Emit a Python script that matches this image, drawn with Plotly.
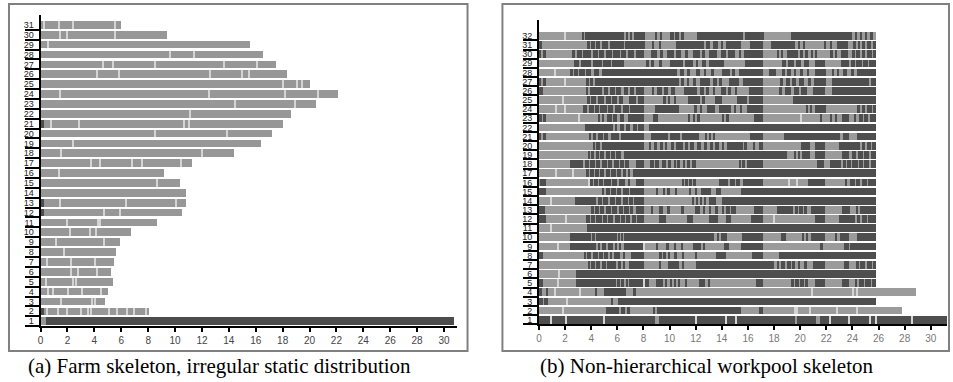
import plotly.graph_objects as go

W, H = 953, 382

# ---------------- (a) Farm skeleton: rows 1..31 ----------------
left_rows = list(range(1, 32))
left_ends = [30.7, 8.0, 4.74, 4.99, 5.36, 5.19, 5.41, 5.56, 5.9, 6.67, 8.62, 10.5, 10.75,
             10.8, 10.35, 9.12, 11.22, 14.33, 16.38, 17.17, 18.0, 18.6, 20.43, 22.11, 20.04,
             18.28, 17.47, 16.5, 15.54, 9.36, 5.96]
left_seps = [
    [],
    [0.42, 1.28, 1.97, 3.01, 3.51, 3.7, 5.06, 5.68, 6.42, 6.89, 7.78],
    [1.48, 3.83, 4.0],
    [0.54, 0.91, 2.02, 3.08, 4.45],
    [0.37, 2.35, 2.64],
    [2.27, 2.77, 4.17],
    [0.49, 2.27, 4.0],
    [1.73],
    [1.16, 4.67],
    [2.15, 3.68, 4.08],
    [1.97, 4.25, 4.42],
    [4.67, 5.9],
    [1.41, 6.35, 10.05],
    [],
    [8.65],
    [1.36],
    [3.75, 4.37, 6.79, 7.53, 10.42],
    [1.53, 11.96],
    [2.35],
    [8.45, 13.83],
    [0.74, 2.82, 10.67, 11.0],
    [11.12],
    [14.45, 18.87],
    [1.41, 12.48, 18.13, 20.6],
    [18.0, 19.07, 19.44],
    [4.2, 5.83, 12.6, 14.95, 15.5],
    [4.62, 5.36, 8.52, 13.6, 16.06],
    [9.6, 11.4],
    [0.5],
    [1.41, 1.97, 5.53],
    [0.22, 1.33, 2.35, 5.53],
]
left_dark_rows = [1, 2, 12, 13, 21]
left_dark_from = [0.35, 0.0, 0.0, 0.0, 0.0]
left_dark_to = [30.7, 0.2, 0.2, 0.2, 0.2]

# ---------------- (b) Non-hierarchical workpool: rows 1..32 ----------------
right_rows = list(range(1, 33))
# colour of the first segment of each row (L = light, D = dark); colours then alternate
right_first = ["D", "L", "D", "D", "D", "L", "L", "D", "L", "L", "L", "D", "D", "L", "D", "L",
               "L", "L", "L", "L", "D", "L", "D", "L", "L", "D", "D", "L", "L", "D", "D", "L"]
right_bounds = [
    [0, 8.85, 9.2, 19.6, 19.75, 21.2, 21.5, 31.5],
    [0, 5.14, 6.16, 6.3, 6.6, 6.75, 7.0, 8.7, 8.9, 9.0, 15.45, 16.84, 17.18, 27.8],
    [0, 0.3, 0.4, 0.69, 5.52, 5.6, 6.03, 25.8],
    [0, 0.2, 0.6, 0.7, 4.25, 4.45, 5.01, 6.67, 7.18, 7.43, 28.9],
    [0, 0.3, 2.8, 5.9, 6.0, 6.2, 6.3, 6.5, 6.7, 6.8, 6.92, 8.45, 8.96, 9.47, 9.7, 9.8, 10.1,
     10.2, 10.4, 10.5, 10.7, 10.8, 11.2, 11.3, 12.26, 12.72, 13.0, 13.1, 16.59, 17.18, 19.31,
     19.5, 19.6, 19.9, 20.0, 20.3, 20.4, 20.6, 21.17, 21.93, 23.21, 23.72, 24.2, 24.3, 24.5,
     24.9, 25.0, 25.4, 25.5, 25.8],
    [0, 2.8, 25.8],
    [0, 3.74, 3.9, 4.0, 4.3, 4.4, 4.7, 4.8, 5.1, 5.2, 5.9, 6.05, 6.3, 6.4, 6.6, 6.92, 8.07,
     9.21, 9.35, 9.85, 10.74, 11.0, 11.1, 12.01, 17.99, 18.2, 18.4, 18.5, 18.8, 19.0, 19.3,
     19.4, 19.6, 19.8, 20.0, 20.3, 20.5, 20.99, 21.93, 23.38, 23.72, 24.35, 24.5, 24.6, 25.0,
     25.1, 25.5, 25.6, 25.8],
    [0, 0.3, 3.41, 3.6, 3.7, 4.0, 4.1, 4.5, 4.6, 4.9, 5.0, 5.3, 5.4, 5.6, 5.78, 6.21, 6.4, 6.6,
     7.05, 8.07, 9.21, 9.4, 9.5, 9.7, 9.9, 10.0, 10.3, 10.6, 11.0, 11.1, 12.0, 12.1, 13.54,
     14.3, 16.34, 17.18, 18.37, 25.8],
    [0, 2.39, 4.38, 4.5, 4.7, 4.85, 5.1, 5.25, 5.65, 5.8, 6.0, 6.1, 6.3, 6.54, 7.94, 8.96, 9.1,
     9.8, 9.95, 10.4, 10.5, 10.9, 11.0, 11.76, 12.39, 12.6, 12.7, 14.17, 14.55, 15.5, 17.18,
     21.55, 21.75, 23.33, 23.72, 23.84, 25.8],
    [0, 2.34, 4.0, 4.1, 4.25, 4.4, 5.95, 6.05, 6.2, 6.3, 6.4, 6.5, 13.41, 13.6, 13.8, 13.95,
     14.43, 15.57, 17.18, 18.55, 18.88, 20.15, 20.3, 20.45, 20.6, 20.84, 21.93, 22.7, 22.8,
     23.08, 23.72, 24.35, 25.8],
    [0, 3.66, 25.8],
    [0, 0.56, 3.61, 3.9, 4.0, 4.3, 4.4, 4.8, 4.9, 5.2, 5.3, 5.7, 5.8, 6.2, 6.3, 6.6, 6.7, 7.0,
     7.1, 7.4, 7.5, 8.07, 9.16, 9.72, 11.37, 11.76, 13.03, 13.74, 14.3, 14.68, 16.21, 17.18,
     21.1, 21.93, 22.95, 24.22, 24.35, 24.6, 24.7, 25.1, 25.2, 25.8],
    [0, 0.43, 4.0, 4.2, 4.3, 4.6, 4.7, 5.0, 5.1, 5.5, 5.6, 6.0, 6.1, 6.41, 6.5, 6.92, 7.0, 7.2,
     7.43, 8.07, 8.58, 8.7, 9.21, 9.47, 9.85, 10.0, 10.87, 11.12, 11.96, 12.32, 12.6, 12.7,
     13.0, 13.2, 13.5, 13.7, 14.0, 14.2, 14.3, 14.6, 14.7, 15.06, 16.46, 17.18, 18.25, 19.47,
     19.6, 19.8, 19.9, 20.2, 20.35, 20.5, 20.84, 21.93, 23.21, 23.79, 24.35, 24.45, 24.61, 25.8],
    [0, 2.72, 4.38, 4.5, 4.8, 4.9, 5.3, 5.4, 5.8, 5.9, 6.3, 6.4, 6.8, 6.9, 7.2, 7.3, 8.07,
     11.76, 11.9, 12.0, 12.2, 12.3, 12.5, 12.6, 12.8, 13.0, 13.54, 14.05, 25.8],
    [0, 0.56, 4.83, 5.0, 5.1, 5.4, 5.5, 5.9, 6.0, 6.3, 6.4, 6.92, 7.0, 8.07, 8.96, 9.1, 9.5,
     9.6, 9.8, 10.0, 10.4, 10.6, 11.5, 11.6, 12.0, 12.1, 12.39, 13.16, 13.54, 13.92, 15.5, 25.8],
    [0, 0.1, 0.56, 3.87, 4.1, 4.2, 4.5, 4.6, 4.9, 5.0, 5.5, 5.6, 6.0, 6.1, 6.6, 6.8, 7.0, 7.43,
     8.07, 10.99, 11.1, 11.2, 11.4, 11.5, 11.7, 11.8, 12.0, 13.79, 14.5, 14.6, 15.0, 15.1,
     15.4, 15.6, 17.18, 20.59, 21.93, 23.5, 23.6, 23.8, 24.2, 24.3, 24.6, 24.7, 25.1, 25.2, 25.8],
    [0, 3.61, 3.8, 3.9, 4.2, 4.3, 4.6, 4.7, 5.0, 5.1, 5.4, 5.55, 5.9, 6.0, 6.3, 6.4, 6.7, 6.85,
     7.0, 7.18, 25.8],
    [0, 2.39, 3.36, 3.5, 3.8, 3.9, 4.3, 4.4, 4.7, 4.85, 5.2, 5.3, 5.6, 5.75, 6.1, 6.2, 6.5, 6.6,
     6.9, 7.43, 8.07, 8.5, 8.8, 8.9, 9.2, 9.4, 9.7, 9.85, 10.1, 10.3, 10.5, 10.6, 10.8, 11.0,
     11.2, 11.35, 11.6, 11.75, 12.0, 15.32, 15.45, 15.6, 15.75, 15.9, 17.18, 21.3, 21.86, 22.3,
     23.1, 23.3, 23.5, 23.6, 23.9, 24.0, 24.4, 24.5, 24.8, 24.9, 25.3, 25.4, 25.8],
    [0, 3.74, 3.9, 4.0, 4.2, 4.35, 4.6, 4.7, 5.0, 5.1, 5.4, 5.5, 5.8, 5.9, 6.1, 6.2, 6.3, 6.54,
     18.96, 19.57, 19.7, 19.85, 19.95, 20.15, 20.74, 21.1, 21.93, 23.21, 23.72, 24.0, 24.3,
     24.4, 24.8, 24.9, 25.3, 25.4, 25.8],
    [0, 4.12, 4.3, 4.4, 4.7, 4.8, 8.07, 8.45, 8.6, 8.8, 9.0, 9.3, 9.5, 9.7, 9.8, 10.1, 10.3,
     10.5, 10.99, 11.2, 11.4, 11.6, 11.9, 12.1, 12.4, 12.6, 12.9, 13.1, 13.3, 13.5, 13.8, 14.0,
     14.2, 14.43, 15.65, 15.75, 15.9, 16.4, 16.5, 16.84, 17.18, 20.03, 20.74, 21.1, 21.9,
     22.95, 24.55, 24.7, 25.0, 25.1, 25.4, 25.5, 25.8],
    [0, 0.15, 0.3, 0.55, 3.87, 4.0, 4.1, 4.4, 4.5, 4.9, 5.0, 5.3, 5.5, 6.1, 6.25, 8.07, 8.58,
     9.85, 10.03, 10.79, 10.95, 12.26, 12.75, 12.9, 13.0, 13.2, 13.3, 13.5, 16.16, 17.18,
     18.75, 23.02, 23.3, 23.72, 24.35, 25.8],
    [0, 3.5, 5.65, 5.8, 6.0, 6.2, 6.5, 6.7, 7.0, 7.2, 7.5, 7.6, 8.07, 8.4, 25.8],
    [0, 0.2, 0.35, 0.5, 4.5, 4.7, 4.8, 5.0, 5.2, 5.6, 5.7, 6.0, 6.2, 6.5, 6.8, 8.07, 8.7, 9.1,
     11.4, 11.6, 11.8, 11.9, 12.1, 12.3, 14.0, 14.2, 14.3, 14.55, 16.46, 17.18, 21.55, 21.7,
     22.3, 22.4, 22.7, 22.85, 23.2, 23.72, 24.1, 24.3, 24.5, 24.8, 24.9, 25.2, 25.35, 25.8],
    [0, 3.4, 3.7, 3.8, 4.2, 4.3, 4.6, 4.7, 5.2, 5.3, 5.7, 5.8, 6.3, 6.4, 6.9, 7.0, 8.07, 8.9,
     10.75, 11.9, 12.1, 12.3, 12.5, 12.9, 13.5, 13.8, 14.7, 14.9, 15.1, 15.4, 15.5, 15.9,
     17.18, 20.48, 20.6, 20.8, 20.9, 21.1, 22.0, 24.35, 24.6, 24.7, 25.0, 25.1, 25.5, 25.6, 25.8],
    [0, 3.7, 3.9, 4.0, 4.4, 4.5, 5.0, 5.1, 5.5, 5.6, 6.0, 6.1, 6.4, 6.9, 7.4, 7.6, 8.07, 9.5,
     9.7, 9.9, 10.0, 10.3, 10.5, 11.4, 12.3, 12.5, 12.7, 13.5, 14.0, 15.2, 15.9, 16.1, 17.18,
     19.47, 25.8],
    [0, 0.3, 3.6, 3.7, 3.9, 4.85, 5.0, 5.3, 5.4, 5.8, 5.9, 6.3, 6.5, 6.8, 7.0, 7.3, 7.43, 8.07,
     8.7, 8.8, 9.0, 9.4, 9.6, 9.9, 10.1, 10.4, 11.1, 12.1, 12.3, 12.6, 12.8, 13.0, 13.3, 13.5,
     13.9, 14.3, 14.5, 14.7, 15.0, 15.2, 16.1, 17.18, 18.4, 18.6, 18.8, 19.3, 19.5, 19.9, 20.1,
     20.5, 20.99, 21.93, 22.44, 25.8],
    [0, 0.15, 0.3, 0.55, 3.6, 3.8, 3.9, 4.1, 4.3, 10.7, 10.9, 11.1, 11.3, 11.5, 11.8, 12.0,
     12.3, 13.1, 13.3, 13.6, 13.8, 14.0, 14.55, 15.3, 15.6, 17.18, 18.45, 18.7, 18.9, 19.2,
     19.4, 19.7, 19.9, 20.3, 20.6, 20.8, 21.05, 22.0, 22.44, 25.24, 25.4, 25.8],
    [0, 2.4, 2.6, 2.7, 3.0, 3.1, 3.5, 3.6, 4.0, 4.2, 4.6, 4.8, 10.6, 10.8, 11.1, 11.3, 11.6,
     12.0, 12.3, 12.6, 12.8, 13.2, 13.4, 14.0, 14.6, 14.8, 15.0, 15.3, 17.18, 17.61, 18.12,
     18.63, 18.8, 19.0, 19.3, 19.5, 19.7, 20.0, 20.2, 20.5, 20.7, 21.1, 22.0, 22.4, 22.6, 22.8,
     23.0, 23.3, 23.6, 23.9, 24.1, 24.35, 25.8],
    [0, 2.7, 3.1, 3.2, 4.0, 4.1, 4.8, 4.9, 5.5, 5.6, 6.5, 8.2, 8.4, 8.6, 8.8, 9.2, 9.4, 10.0,
     11.0, 11.2, 11.8, 12.0, 12.2, 12.5, 12.8, 13.0, 14.2, 15.8, 17.18, 18.63, 18.9, 19.1,
     19.5, 19.7, 20.1, 20.3, 20.7, 21.1, 21.93, 23.1, 23.72, 23.9, 24.2, 24.3, 24.7, 24.8,
     25.2, 25.3, 25.8],
    [0, 0.15, 0.3, 0.55, 2.6, 2.75, 2.9, 3.3, 3.4, 4.0, 4.1, 4.5, 4.6, 5.0, 5.1, 5.6, 5.7, 6.2,
     6.3, 6.7, 6.8, 7.3, 7.4, 8.07, 8.6, 9.0, 9.3, 9.5, 9.8, 10.3, 10.5, 10.9, 11.2, 11.4, 11.8,
     12.3, 12.5, 12.7, 13.0, 13.6, 13.9, 14.3, 14.5, 15.0, 15.3, 15.5, 15.7, 17.18, 18.25,
     18.4, 18.6, 18.7, 19.0, 19.83, 20.0, 20.2, 20.4, 20.6, 20.8, 21.0, 21.1, 21.3, 22.3, 22.5,
     22.7, 22.8, 23.1, 23.7, 24.0, 24.2, 24.3, 24.6, 24.7, 25.0, 25.1, 25.5, 25.6, 25.8],
    [0, 0.2, 3.7, 3.9, 4.0, 4.3, 4.4, 4.7, 4.8, 5.3, 5.4, 6.5, 6.6, 8.1, 8.7, 8.8, 9.2, 9.3,
     10.5, 12.6, 12.8, 13.1, 13.3, 13.7, 13.9, 14.1, 14.3, 15.45, 16.16, 17.18, 17.74, 19.57,
     19.8, 20.0, 20.2, 20.4, 21.8, 22.0, 22.3, 22.45, 22.8, 23.7, 24.1, 24.25, 24.4, 24.6,
     24.75, 25.0, 25.15, 25.4, 25.55, 25.8],
    [0, 3.3, 3.4, 3.5, 6.5, 6.7, 6.8, 7.0, 7.1, 7.3, 8.1, 8.9, 9.0, 9.3, 9.4, 10.0, 10.3, 10.45,
     10.7, 10.85, 11.1, 12.1, 15.6, 15.75, 17.2, 19.3, 24.0, 24.2, 24.35, 24.6, 24.75, 25.0,
     25.15, 25.4, 25.55, 25.8],
]
# extra light division lines inside a segment of the same colour
right_splits = [
    [0.94, 2.09, 5.01, 12.01, 14.3, 15.06, 22.32, 23.72, 25.32, 25.83, 28.55],
    [1.83, 19.57, 19.78, 20.74, 22.82, 24.35],
    [2.14],
    [1.2, 3.16, 20.92, 24.05, 24.35],
    [1.45, 8.07],
    [1.5],
    [], [], [1.45, 8.07], [], [0.94], [2.04, 18.0], [], [0.94], [], [3.82, 19.13, 19.78],
    [1.32, 2.6], [], [], [], [], [], [3.1, 20.03], [1.3, 1.96], [1.83], [], [2.0], [1.2],
    [], [], [], [2.0],
]

x_ticks = list(range(0, 31, 2))

DARK = "#4c4c4c"
SEP = "#d4d4d4"

# ---------- build left marks ----------
lb_y, lb_base, lb_len = [], [], []
for r, e in zip(left_rows, left_ends):
    lb_y.append(r); lb_base.append(0); lb_len.append(e)
ld_y, ld_base, ld_len = [], [], []
for r, a, b in zip(left_dark_rows, left_dark_from, left_dark_to):
    ld_y.append(r); ld_base.append(a); ld_len.append(b - a)
ls_y, ls_base, ls_len = [], [], []
SW = 0.09
for r, seps in zip(left_rows, left_seps):
    for s in seps:
        ls_y.append(r); ls_base.append(s - SW / 2); ls_len.append(SW)

# ---------- build right marks ----------
rl_y, rl_base, rl_len = [], [], []
rd_y, rd_base, rd_len = [], [], []
for r, first, bnds in zip(right_rows, right_first, right_bounds):
    dark = (first == "D")
    for a, b in zip(bnds[:-1], bnds[1:]):
        if dark:
            rd_y.append(r); rd_base.append(a); rd_len.append(b - a)
        else:
            rl_y.append(r); rl_base.append(a); rl_len.append(b - a)
        dark = not dark
rs_y, rs_base, rs_len = [], [], []
RSW = 0.08
for r, sp in zip(right_rows, right_splits):
    for s in sp:
        rs_y.append(r); rs_base.append(s - RSW / 2); rs_len.append(RSW)

fig = go.Figure()


def hbar(y, base, length, color, width, xa, ya):
    return go.Bar(y=y, x=length, base=base, orientation="h", width=width,
                  marker=dict(color=color, line=dict(width=0)),
                  xaxis=xa, yaxis=ya, hoverinfo="skip", showlegend=False)


fig.add_trace(hbar(lb_y, lb_base, lb_len, "#979797", 0.78, "x", "y"))
fig.add_trace(hbar(ld_y, ld_base, ld_len, DARK, 0.78, "x", "y"))
fig.add_trace(hbar(ls_y, ls_base, ls_len, SEP, 0.78, "x", "y"))

fig.add_trace(hbar(rl_y, rl_base, rl_len, "#9b9b9b", 0.84, "x2", "y2"))
fig.add_trace(hbar(rd_y, rd_base, rd_len, "#4e4e4e", 0.84, "x2", "y2"))
fig.add_trace(hbar(rs_y, rs_base, rs_len, SEP, 0.84, "x2", "y2"))

tick_font = dict(family="Liberation Sans Narrow, Liberation Sans", size=10, color="#444444")
ytick_font = dict(family="Liberation Sans", size=9, color="#222222")

common_x = dict(tickvals=x_ticks, ticks="outside", ticklen=4, tickwidth=1.5,
                tickcolor="black", showline=True, linecolor="black", linewidth=2,
                showgrid=False, zeroline=False, fixedrange=True)
common_y = dict(ticks="", showline=True, linecolor="black", linewidth=2,
                showgrid=False, zeroline=False, ticklabelstandoff=3, fixedrange=True)

fig.update_layout(
    width=W, height=H, autosize=False,
    margin=dict(l=0, r=0, t=0, b=0),
    paper_bgcolor="white", plot_bgcolor="rgba(0,0,0,0)",
    barmode="overlay", bargap=0, showlegend=False,
    xaxis=dict(domain=[37.7 / W, 455 / W], range=[0, (455 - 37.7) / 13.49], anchor="y",
               tickfont=tick_font, **common_x),
    yaxis=dict(domain=[(H - 327) / H, (H - 15) / H], range=[0.5, 32.0], anchor="x",
               tickvals=left_rows, ticktext=[str(r) for r in left_rows], tickfont=ytick_font,
               minor=dict(tickvals=[r - 0.5 for r in left_rows], ticks="outside",
                          ticklen=14, tickwidth=2, tickcolor="black"),
               **common_y),
    xaxis2=dict(domain=[537.7 / W, 947 / W], range=[0, (947 - 537.7) / 13.1], anchor="y2",
                tickfont=dict(family="Liberation Sans Narrow, Liberation Sans", size=10,
                              color="#777777"), **common_x),
    yaxis2=dict(domain=[(H - 325.1) / H, (H - 20) / H], range=[0.5, 33.74], anchor="x2",
                tickvals=right_rows, ticktext=[str(r) for r in right_rows], tickfont=ytick_font,
                minor=dict(tickvals=[r - 0.5 for r in right_rows], ticks="outside",
                           ticklen=14, tickwidth=2, tickcolor="black"),
                **common_y),
    shapes=[
        dict(type="rect", xref="paper", yref="paper", x0=6 / W, x1=466 / W,
             y0=(H - 352) / H, y1=(H - 4) / H, line=dict(color="#808080", width=2),
             fillcolor="rgba(0,0,0,0)", layer="below"),
        dict(type="rect", xref="paper", yref="paper", x0=501 / W, x1=949 / W,
             y0=(H - 352) / H, y1=(H - 4) / H, line=dict(color="#808080", width=2),
             fillcolor="rgba(0,0,0,0)", layer="below"),
    ],
    annotations=[
        dict(text="(a) Farm skeleton, irregular static distribution", xref="paper",
             yref="paper", x=217.5 / W, y=(H - 367) / H, showarrow=False,
             xanchor="center", yanchor="middle",
             font=dict(family="Liberation Serif", size=21, color="black")),
        dict(text="(b) Non-hierarchical workpool skeleton", xref="paper",
             yref="paper", x=705.5 / W, y=(H - 367) / H, showarrow=False,
             xanchor="center", yanchor="middle",
             font=dict(family="Liberation Serif", size=21, color="black")),
    ],
)

fig.write_html(
    "out.html",
    config={"displayModeBar": False},
    post_script="document.body.style.margin='0';document.body.style.overflow='hidden';"
)
